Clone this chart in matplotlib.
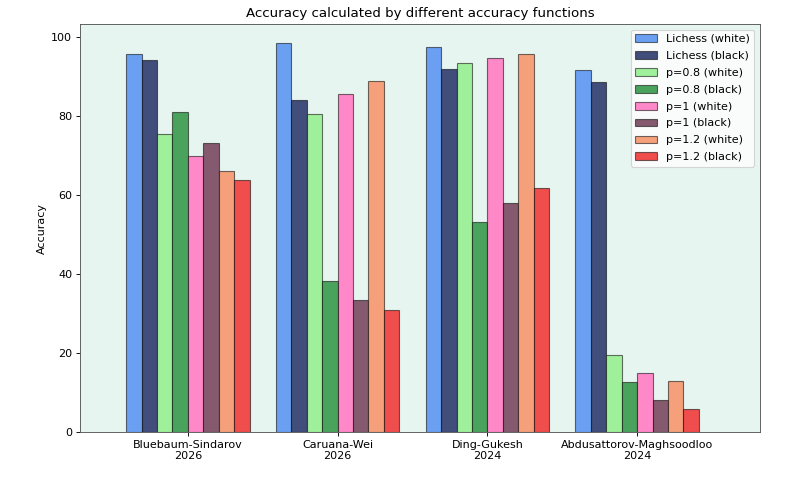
import numpy as np
from matplotlib import pyplot as plt

games = ["Bluebaum-Sindarov\n2026", "Caruana-Wei\n2026", "Ding-Gukesh\n2024",
         "Abdusattorov-Maghsoodloo\n2024"]
labels = ["Lichess (white)", "Lichess (black)", "p=0.8 (white)", "p=0.8 (black)",
          "p=1 (white)", "p=1 (black)", "p=1.2 (white)", "p=1.2 (black)"]
lichess_white = [95.6, 98.4, 97.6, 91.6]
lichess_black = [94.3, 84.1, 91.8, 88.6]
p08_white = [75.4, 80.6, 93.5, 19.4]
p08_black = [81.1, 38.2, 53.2, 12.7]
p1_white = [69.9, 85.7, 94.8, 14.9]
p1_black = [73.3, 33.4, 57.9, 8.1]
p12_white = [66.0, 89.0, 95.7, 12.8]
p12_black = [63.8, 30.9, 61.9, 5.9]
colors = ["#6a9ff2", "#414d7a", "#9ff09a", "#4aa35c",
          "#ff88c8", "#855a6e", "#f5a07a", "#f04d4d"]

if __name__ == "__main__":
    series = [lichess_white, lichess_black, p08_white, p08_black,
              p1_white, p1_black, p12_white, p12_black]
    x = np.arange(len(games))
    width = 0.103

    fig, ax = plt.subplots(figsize=(10, 6), dpi=80)
    fig.subplots_adjust(left=0.1, right=0.95, top=0.95, bottom=0.1)
    ax.set_facecolor("#e6f5ef")
    for i, (vals, lab, col) in enumerate(zip(series, labels, colors)):
        ax.bar(x + (i - 3.5) * width, vals, width, label=lab, color=col,
               edgecolor=(0, 0, 0, 0.55), linewidth=1)

    ax.set_xticks(x)
    ax.set_xticklabels(games)
    ax.set_xlim(-0.72, 3.82)
    ax.set_ylabel("Accuracy")
    ax.set_title("Accuracy calculated by different accuracy functions")
    for s in ax.spines.values():
        s.set_color("#555555")
    ax.legend(loc="upper right", labelspacing=0.62)
    plt.savefig("out.png")
